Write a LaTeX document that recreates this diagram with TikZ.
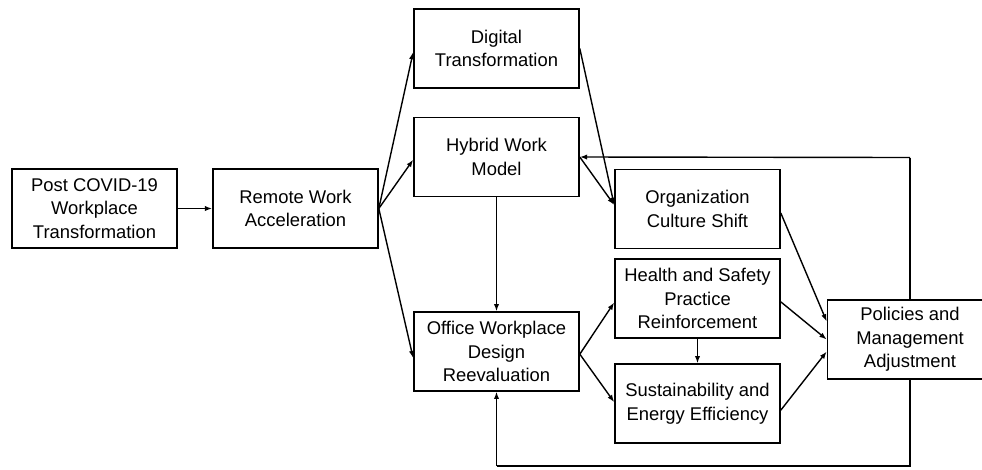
\documentclass[tikz,border=0pt]{standalone}
\usepackage{fontspec}
\setmainfont{Liberation Sans}
\usetikzlibrary{arrows.meta}
\begin{document}
\begin{tikzpicture}[x=0.75pt,y=-0.75pt,
  box/.style={draw, line width=1.2pt, align=center, inner sep=0pt,
    minimum width=123.75pt, minimum height=59pt,
    font=\fontsize{13.8}{17.6}\selectfont},
  conn/.style={line width=1.05pt, -{Latex[length=5.5pt,width=4pt]}},
  plain/.style={line width=1.05pt}]
\useasboundingbox (0,0) rectangle (982,469);

% boxes
\node[box] (post)   at (94.5,208.5) {Post COVID-19\\Workplace\\Transformation};
\node[box] (remote) at (295.5,208.5) {Remote Work\\Acceleration};
\node[box] (digital) at (496.5,48.5) {Digital\\Transformation};
\node[box] (hybrid) at (496.5,157) {Hybrid Work\\Model};
\node[box] (office) at (496.5,351.5) {Office Workplace\\Design\\Reevaluation};
\node[box] (org)    at (697.5,209) {Organization\\Culture Shift};
\node[box] (health) at (697.5,298.5) {Health and Safety\\Practice\\Reinforcement};
\node[box] (sust)   at (697.5,403.5) {Sustainability and\\Energy Efficiency};
\node[box] (policy) at (910,339.5) {Policies and\\Management\\Adjustment};

% return paths
\coordinate (topturn) at (910,157.5);
\coordinate (botright) at (910,466);
\coordinate (botleft) at (496.5,466);

% forward flow
\draw[conn] (post) -- (remote);
\draw[conn] (remote.east) -- ([yshift=-2.6pt]digital.west);
\draw[conn] (remote.east) -- ([yshift=-2pt]hybrid.west);
\draw[conn] (remote.east) -- ([yshift=-5pt]office.west);
\draw[conn] (digital.east) -- ([yshift=3pt]org.west);
\draw[conn] (hybrid.east) -- ([yshift=3pt]org.west);
\draw[conn] (hybrid) -- (office);
\draw[conn] ([yshift=-2pt]office.east) -- ([yshift=-3pt]health.west);
\draw[conn] ([yshift=-2pt]office.east) -- ([yshift=1pt]sust.west);
\draw[conn] (health) -- (sust);
\draw[conn] ([yshift=-3pt]org.east) -- ([yshift=13.5pt]policy.west);
\draw[conn] ([yshift=-2.5pt]health.east) -- ([yshift=0pt]policy.west);
\draw[conn] ([yshift=-5pt]sust.east) -- ([yshift=-9pt]policy.west);

% feedback loops
\draw[plain] (policy.north) -- (topturn);
\draw[conn] (topturn) -- (hybrid.east);
\draw[plain] (policy.south) -- (botright) -- (botleft);
\draw[conn] (botleft) -- (office.south);
\end{tikzpicture}
\end{document}
